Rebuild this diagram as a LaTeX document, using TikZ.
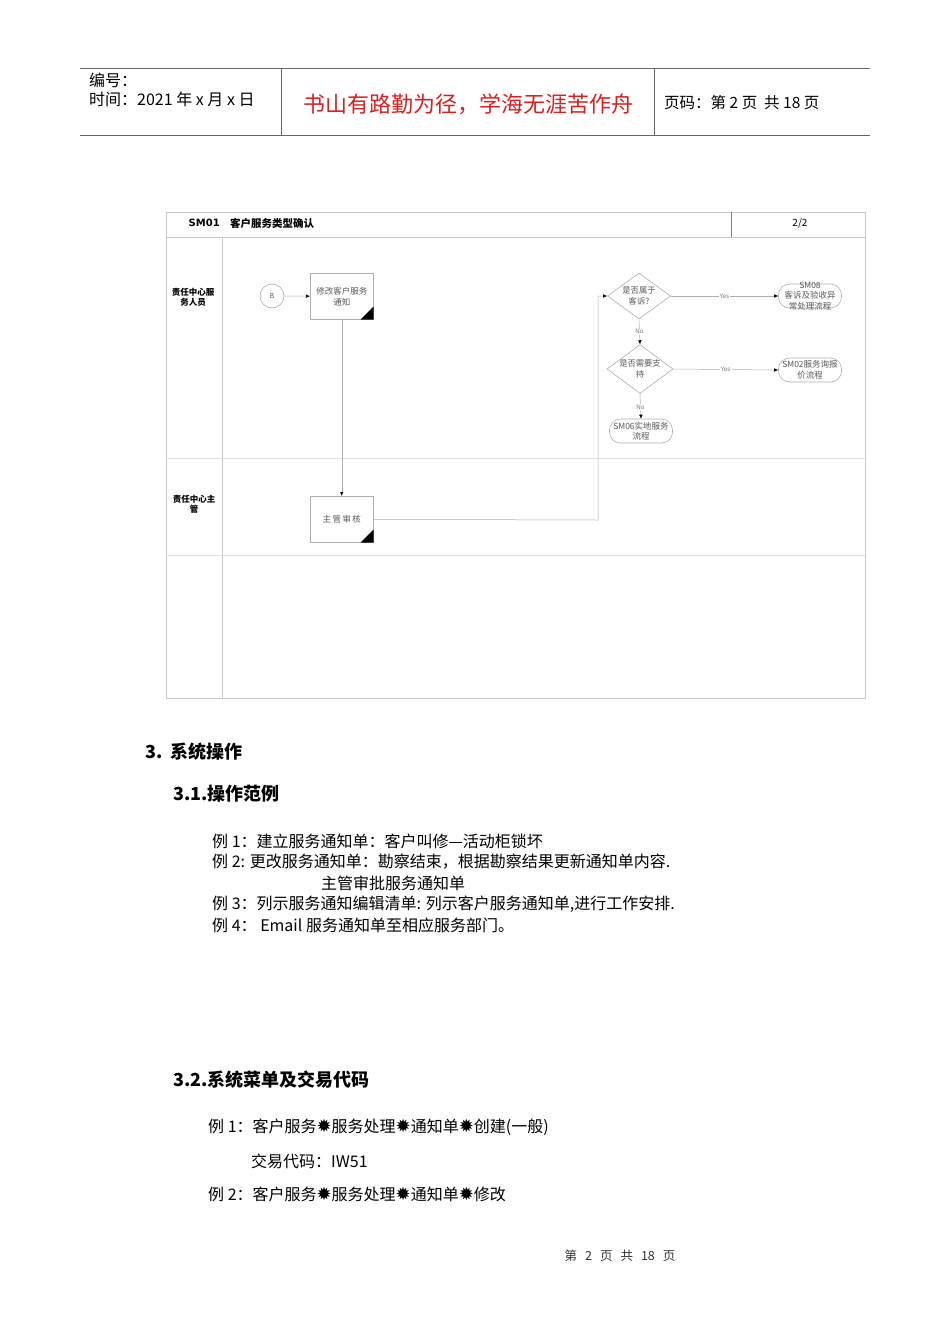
\documentclass[tikz,border=0pt]{standalone}
\usepackage{fontspec}
\setmainfont{DejaVu Sans}
\newfontfamily\cjk{Noto Sans CJK SC}
\usetikzlibrary{shapes.geometric,arrows.meta}
\definecolor{redtxt}{RGB}{222,30,30}
\definecolor{lane}{RGB}{200,200,200}
\definecolor{edge}{RGB}{175,175,175}
\newcommand{\stsep}{{\fontspec{DejaVu Sans}\fontsize{18}{18}\selectfont ✹}}
\tikzset{
  txt/.style={inner sep=0pt,anchor=west,font=\cjk\fontsize{16}{16}\selectfont},
  hdtxt/.style={inner sep=0pt,anchor=west,font=\cjk\fontsize{16}{16}\selectfont},
  hd/.style={inner sep=0pt,anchor=west,font=\cjk\bfseries\fontsize{18}{18}\selectfont},
  proc/.style={draw=edge,line width=0.6pt,minimum width=63pt,minimum height=46pt,inner sep=1pt,align=center,font=\cjk\fontsize{8.5}{11}\selectfont,text=black!65},
  dec/.style={diamond,aspect=1.35,draw=edge,line width=0.6pt,minimum width=63pt,minimum height=46pt,inner sep=0pt,align=center,font=\cjk\fontsize{8.3}{10.5}\selectfont,text=black!65},
  term/.style={draw=edge,line width=0.6pt,rounded corners=11pt,minimum width=63pt,minimum height=24pt,inner sep=0pt},
  termtxt/.style={inner sep=0pt,align=center,font=\cjk\fontsize{8.5}{10.5}\selectfont,text=black!65},
  conn/.style={draw=edge,line width=0.5pt,-{Latex[length=4pt,width=3.5pt,color=black]}},
  elab/.style={font=\fontsize{6}{6}\selectfont,text=black!50,inner sep=1pt},
  lanelab/.style={font=\cjk\bfseries\fontsize{8.5}{10}\selectfont,align=center},
}
\begin{document}
\begin{tikzpicture}[x=1pt,y=-1pt]
\useasboundingbox (0,0) rectangle (950,1344);
\fill[white] (0,0) rectangle (950,1344);
% header
\draw[black!60,line width=0.8pt] (80,68) -- (870,68);
\draw[black!60,line width=0.8pt] (80,135) -- (870,135);
\draw[black!60,line width=0.8pt] (281,68) -- (281,135);
\draw[black!60,line width=0.8pt] (654,68) -- (654,135);
\node[hdtxt] (h1) at (89,80) {编号：};
\node[hdtxt] (h2) at (89,99) {时间：2021 年 x 月 x 日};
\node[inner sep=0pt,font=\cjk\fontsize{22}{22}\selectfont,text=redtxt] (h3) at (468,104) {书山有路勤为径，学海无涯苦作舟};
\node[hdtxt,font=\cjk\fontsize{15.5}{15.5}\selectfont] (h4) at (664,103) {页码：第 2 页\ \ 共 18 页};
% flowchart frame
\draw[lane,line width=0.7pt] (166,212) rectangle (865,698);
\draw[lane,line width=0.7pt] (166,237) -- (865,237);
\draw[black!50,line width=0.6pt] (731,212) -- (731,237);
\draw[lane,line width=0.7pt] (222,237) -- (222,698);
\draw[black!12,line width=0.6pt] (166,458) -- (865,458);
\draw[black!12,line width=0.6pt] (166,555) -- (865,555);
\node[inner sep=0pt,anchor=east,font=\bfseries\fontsize{10}{10}\selectfont] (sm) at (220,223) {SM01};
\node[inner sep=0pt,anchor=west,font=\cjk\bfseries\fontsize{10.5}{10.5}\selectfont] (ttl) at (230,223) {客户服务类型确认};
\node[inner sep=0pt,font=\cjk\fontsize{10}{10}\selectfont] (pg) at (800,223) {2/2};
\node[lanelab] (l1) at (193,297) {责任中心服\\务人员};
\node[lanelab] (l2) at (194,504) {责任中心主\\管};
% nodes
\node[circle,draw=edge,line width=0.6pt,minimum size=24pt,inner sep=0pt,font=\fontsize{7}{7}\selectfont,text=black!60] (b) at (272,296) {B};
\node[proc,anchor=north west] (p1) at (310,273) {修改客户服务\\通知};
\node[proc,anchor=north west] (p2) at (310,496) {主\,管\,审\,核};
\fill[black] (p1.south east) -- ++(-13,0) -- ++(13,-13) -- cycle;
\fill[black] (p2.south east) -- ++(-13,0) -- ++(13,-13) -- cycle;
\node[dec] (d1) at (639,296) {是否属于\\客诉?};
\node[dec] (d2) at (640,369) {是否需要支\\持};
\node[term] (t1) at (810,296) {};
\node[term] (t2) at (810,370) {};
\node[term] (t3) at (641,431) {};
\node[termtxt] (t1x) at (810,296) {SM08\\客诉及验收异\\常处理流程};
\node[termtxt] (t2x) at (810,370) {SM02服务询报\\价流程};
\node[termtxt] (t3x) at (641,431) {SM06实地服务\\流程};
\coordinate (c1) at (598,520);
\coordinate (c2) at (598,296);
% connectors
\draw[conn] (b) -- (p1);
\draw[conn] (p1) -- (p2);
\draw[conn] (p2.east) -- (c1) -- (c2) -- (d1.west);
\draw[conn] (d1.east) -- node[elab,fill=white]{Yes} (t1.west);
\draw[conn] (d1.south) -- node[elab,fill=white]{No} (d2.north);
\draw[conn] (d2.east) -- node[elab,fill=white]{Yes} (t2.west);
\draw[conn] (d2.south) -- node[elab,fill=white,pos=0.55]{No} (t3.north);
% text body
\node[hd] (s3) at (145,752) {3.\ \ 系统操作};
\node[hd] (s31) at (173,794) {3.1.操作范例};
\node[txt] (e1) at (212,841) {例 1：建立服务通知单：客户叫修—活动柜锁坏};
\node[txt] (e2) at (212,862) {例 2: 更改服务通知单：勘察结束，根据勘察结果更新通知单内容.};
\node[txt] (e2b) at (321,883) {主管审批服务通知单};
\node[txt] (e3) at (212,904) {例 3：列示服务通知编辑清单: 列示客户服务通知单,进行工作安排.};
\node[txt] (e4) at (212,925) {例 4：\ Email 服务通知单至相应服务部门。};
\node[hd] (s32) at (173,1080) {3.2.系统菜单及交易代码};
\node[txt] (m1) at (208,1127) {例 1：客户服务\stsep 服务处理\stsep 通知单\stsep 创建(一般)};
\node[txt] (m1b) at (251,1161) {交易代码：IW51};
\node[txt] (m2) at (208,1194) {例 2：客户服务\stsep 服务处理\stsep 通知单\stsep 修改};
\node[inner sep=0pt,font=\cjk\fontsize{12.5}{12.5}\selectfont,text=black!80] (ft) at (620,1256) {第\hspace{8pt}2\hspace{8pt}页\hspace{8pt}共\hspace{8pt}18\hspace{8pt}页};
\end{tikzpicture}
\end{document}
